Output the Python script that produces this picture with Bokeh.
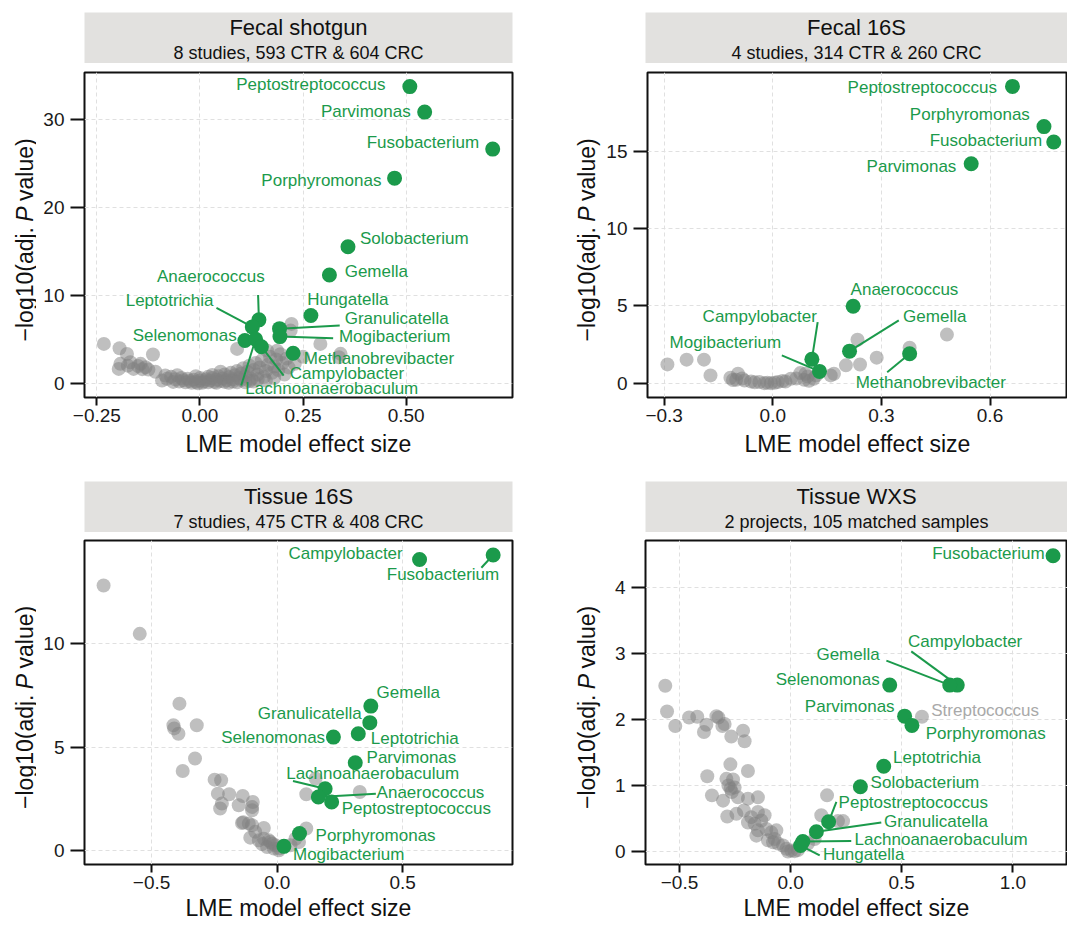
import math

from bokeh.core.properties import field, value
from bokeh.embed import file_html
from bokeh.layouts import column, row
from bokeh.models import ColumnDataSource, FixedTicker, Range1d
from bokeh.plotting import figure
from bokeh.resources import INLINE

FONT = "Liberation Sans"
GREEN = "#1b9a4b"
GRAY = "#808080"
STRIP = "#e2e1df"
INK = "#111111"

# ---------------------------------------------------------------- data
# Fecal shotgun
fs_title = "Fecal shotgun"
fs_subtitle = "8 studies, 593 CTR & 604 CRC"
fs_names = ["Peptostreptococcus", "Parvimonas", "Fusobacterium", "Porphyromonas",
            "Solobacterium", "Gemella", "Hungatella", "Granulicatella", "Mogibacterium",
            "Methanobrevibacter", "Anaerococcus", "Leptotrichia", "Selenomonas",
            "Lachnoanaerobaculum", "Campylobacter"]
fs_effect = [0.509, 0.545, 0.710, 0.472, 0.359, 0.314, 0.269, 0.193, 0.194,
             0.226, 0.143, 0.127, 0.109, 0.135, 0.149]
fs_logp = [33.7, 30.8, 26.6, 23.3, 15.5, 12.3, 7.7, 6.2, 5.3,
           3.4, 7.2, 6.4, 4.85, 5.0, 4.15]
fs_other_effect = [-0.233, -0.195, -0.177, -0.114, -0.193, -0.169, -0.144, -0.132, -0.197, -0.161,
                   -0.150, -0.125, -0.108, -0.084, -0.092, -0.070, -0.060, -0.050, -0.175, -0.140,
                   -0.045, -0.040, -0.035, -0.030, -0.025, -0.020, -0.015, -0.010, -0.005, 0.000,
                   0.005, 0.010, 0.015, 0.020, 0.025, 0.030, 0.035, 0.040, 0.045, 0.050,
                   0.055, 0.060, 0.065, 0.070, 0.075, 0.080, 0.085, 0.090, 0.095, 0.100,
                   0.105, 0.110, 0.115, 0.120, 0.125, 0.130, 0.135, 0.140, 0.145, 0.150,
                   0.155, 0.160, 0.165, 0.170, 0.175, 0.180, 0.185, 0.190, 0.195, 0.200,
                   0.205, 0.210, 0.215, -0.065, -0.055, -0.080, 0.000, 0.020, 0.040, 0.060,
                   0.080, 0.100, 0.120, 0.140, 0.160, 0.180, 0.050, 0.070, 0.090, 0.110,
                   0.130, 0.030, -0.010, 0.292, 0.337, 0.220, 0.222, 0.187, 0.090, 0.163,
                   0.341, 0.250, 0.230]
fs_other_logp = [4.47, 3.97, 3.33, 3.26, 2.20, 2.38, 2.20, 1.82, 1.63, 1.63,
                 1.95, 1.55, 1.30, 0.87, 0.30, 0.75, 0.45, 0.20, 2.00, 1.60,
                 0.60, 0.35, 0.10, 0.50, 0.25, 0.05, 0.40, 0.15, 0.00, 0.30,
                 0.05, 0.20, 0.45, 0.10, 0.30, 0.60, 0.15, 0.40, 0.80, 0.25,
                 0.55, 1.00, 0.35, 0.70, 1.20, 0.45, 0.90, 1.40, 0.60, 1.10,
                 1.70, 0.80, 1.30, 2.00, 0.50, 1.50, 2.30, 1.00, 1.80, 2.60,
                 0.70, 1.40, 2.10, 3.00, 1.20, 1.90, 2.70, 1.50, 3.30, 2.30,
                 1.00, 2.80, 1.80, 0.15, 0.90, 0.50, 0.60, 0.75, 0.05, 0.15,
                 0.20, 0.35, 0.25, 0.45, 0.30, 0.60, 1.30, 0.05, 0.10, 0.10,
                 0.20, 0.95, 0.80, 4.47, 2.95, 5.98, 6.74, 3.70, 3.90, 3.70,
                 3.34, 3.00, 2.20]
fs_xticks = [-0.25, 0.0, 0.25, 0.5]
fs_xlabels = ["\u22120.25", "0.00", "0.25", "0.50"]
fs_yticks = [0, 10, 20, 30]
fs_ylabels = ["0", "10", "20", "30"]

# Fecal 16S
f16_title = "Fecal 16S"
f16_subtitle = "4 studies, 314 CTR & 260 CRC"
f16_names = ["Peptostreptococcus", "Porphyromonas", "Fusobacterium", "Parvimonas",
             "Anaerococcus", "Gemella", "Methanobrevibacter", "Campylobacter", "Mogibacterium"]
f16_effect = [0.662, 0.749, 0.776, 0.548, 0.222, 0.212, 0.378, 0.108, 0.129]
f16_logp = [19.2, 16.6, 15.6, 14.2, 4.97, 2.07, 1.90, 1.54, 0.76]
f16_other_effect = [-0.291, -0.238, -0.190, -0.172, -0.117, -0.096, -0.101, -0.078, -0.060, -0.037,
                    -0.023, -0.005, 0.014, 0.027, 0.050, 0.076, 0.087, 0.096, 0.113, 0.169,
                    0.202, 0.234, 0.241, 0.287, 0.378, 0.481, -0.110, -0.085, -0.050, -0.015,
                    0.005, 0.035, 0.065, 0.100, 0.090, 0.120, 0.160]
f16_other_logp = [1.21, 1.52, 1.52, 0.50, 0.35, 0.61, 0.22, 0.17, 0.11, 0.07,
                  0.00, 0.00, 0.07, 0.13, 0.28, 0.65, 0.22, 0.43, 0.28, 0.61,
                  1.15, 2.81, 1.21, 1.65, 2.29, 3.14, 0.20, 0.30, 0.05, 0.03,
                  0.02, 0.10, 0.30, 0.15, 0.60, 0.50, 0.50]
f16_xticks = [-0.3, 0.0, 0.3, 0.6]
f16_xlabels = ["\u22120.3", "0.0", "0.3", "0.6"]
f16_yticks = [0, 5, 10, 15]
f16_ylabels = ["0", "5", "10", "15"]

# Tissue 16S
t16_title = "Tissue 16S"
t16_subtitle = "7 studies, 475 CTR & 408 CRC"
t16_names = ["Fusobacterium", "Campylobacter", "Gemella", "Granulicatella", "Leptotrichia",
             "Selenomonas", "Parvimonas", "Lachnoanaerobaculum", "Anaerococcus",
             "Peptostreptococcus", "Porphyromonas", "Mogibacterium"]
t16_effect = [0.860, 0.567, 0.373, 0.369, 0.323, 0.224, 0.311, 0.191, 0.164, 0.217, 0.089, 0.027]
t16_logp = [14.3, 14.08, 6.98, 6.18, 5.64, 5.48, 4.24, 2.98, 2.58, 2.34, 0.81, 0.19]
t16_other_effect = [-0.691, -0.547, -0.389, -0.413, -0.410, -0.393, -0.320, -0.327, -0.376, -0.249,
                    -0.223, -0.236, -0.191, -0.137, -0.220, -0.153, -0.097, -0.227, -0.100, -0.140,
                    -0.113, -0.100, -0.053, -0.087, -0.107, -0.073, -0.053, -0.033, -0.020, -0.040,
                    -0.013, 0.007, -0.007, -0.027, -0.100, -0.135, 0.153, 0.116, 0.329, 0.116,
                    0.087, 0.073, 0.053, 0.010, -0.060]
t16_other_logp = [12.82, 10.48, 7.10, 6.05, 5.90, 5.64, 6.05, 4.44, 3.84, 3.42,
                  3.39, 2.74, 2.71, 2.63, 2.26, 2.18, 2.34, 2.02, 1.94, 1.32,
                  1.29, 1.21, 1.08, 0.89, 0.61, 0.48, 0.56, 0.48, 0.32, 0.16,
                  0.08, 0.00, 0.24, 0.40, 2.10, 1.35, 3.47, 2.71, 2.82, 1.05,
                  0.40, 0.56, 0.24, 0.10, 0.30]
t16_xticks = [-0.5, 0.0, 0.5]
t16_xlabels = ["\u22120.5", "0.0", "0.5"]
t16_yticks = [0, 5, 10]
t16_ylabels = ["0", "5", "10"]

# Tissue WXS
wxs_title = "Tissue WXS"
wxs_subtitle = "2 projects, 105 matched samples"
wxs_names = ["Fusobacterium", "Campylobacter", "Gemella", "Selenomonas", "Parvimonas",
             "Porphyromonas", "Leptotrichia", "Solobacterium", "Peptostreptococcus",
             "Granulicatella", "Lachnoanaerobaculum", "Hungatella"]
wxs_effect = [1.181, 0.750, 0.716, 0.446, 0.513, 0.546, 0.419, 0.314, 0.171, 0.116, 0.055, 0.045]
wxs_logp = [4.48, 2.52, 2.52, 2.52, 2.05, 1.91, 1.29, 0.98, 0.45, 0.30, 0.15, 0.09]
wxs_grey_named = ["Streptococcus"]
wxs_grey_named_effect = [0.591]
wxs_grey_named_logp = [2.04]
wxs_other_effect = [-0.564, -0.556, -0.519, -0.457, -0.420, -0.379, -0.390, -0.334, -0.325, -0.297,
                    -0.307, -0.267, -0.214, -0.207, -0.271, -0.192, -0.375, -0.289, -0.259, -0.252,
                    -0.270, -0.354, -0.304, -0.237, -0.192, -0.147, -0.285, -0.244, -0.210, -0.177,
                    -0.147, -0.132, -0.117, -0.162, -0.192, -0.147, -0.109, -0.087, -0.064, -0.154,
                    -0.102, -0.072, -0.034, -0.019, 0.003, -0.012, 0.018, 0.033, -0.057, -0.079,
                    0.164, 0.138, 0.213, 0.236, 0.108, 0.078, -0.280, -0.265]
wxs_other_logp = [2.51, 2.12, 1.90, 2.03, 2.04, 1.92, 1.81, 2.05, 2.03, 1.93,
                  1.90, 1.74, 1.83, 1.67, 1.32, 1.22, 1.14, 1.10, 1.09, 0.97,
                  0.95, 0.85, 0.77, 0.82, 0.80, 0.82, 0.53, 0.57, 0.62, 0.52,
                  0.60, 0.47, 0.55, 0.42, 0.44, 0.32, 0.34, 0.29, 0.32, 0.24,
                  0.17, 0.19, 0.09, 0.04, 0.015, 0.00, 0.005, 0.02, 0.12, 0.14,
                  0.85, 0.55, 0.46, 0.46, 0.19, 0.12, 1.00, 0.90]
wxs_xticks = [-0.5, 0.0, 0.5, 1.0]
wxs_xlabels = ["\u22120.5", "0.0", "0.5", "1.0"]
wxs_yticks = [0, 1, 2, 3, 4]
wxs_ylabels = ["0", "1", "2", "3", "4"]

# ------------------------------------------------------- label placement
# name: (label x, label y, alignment, leader end or None)
fs_place = {
    "Peptostreptococcus": (0.450, 33.9, "right", None),
    "Parvimonas": (0.511, 30.9, "right", None),
    "Fusobacterium": (0.677, 27.4, "right", None),
    "Porphyromonas": (0.440, 23.0, "right", None),
    "Solobacterium": (0.388, 16.4, "left", None),
    "Gemella": (0.351, 12.7, "left", None),
    "Hungatella": (0.260, 9.5, "left", None),
    "Granulicatella": (0.351, 7.4, "left", (0.339, 6.55)),
    "Mogibacterium": (0.337, 5.3, "left", (0.323, 5.11)),
    "Methanobrevibacter": (0.252, 2.77, "left", None),
    "Campylobacter": (0.218, 1.07, "left", (0.203, 0.87)),
    "Lachnoanaerobaculum": (0.110, -0.64, "left", (0.100, -0.26)),
    "Anaerococcus": (0.157, 12.1, "right", (0.141, 10.03)),
    "Leptotrichia": (0.033, 9.4, "right", (0.040, 8.56)),
    "Selenomonas": (0.089, 5.4, "right", None),
}
f16_place = {
    "Peptostreptococcus": (0.619, 19.1, "right", None),
    "Porphyromonas": (0.710, 17.4, "right", None),
    "Fusobacterium": (0.744, 15.7, "right", None),
    "Parvimonas": (0.507, 14.0, "right", None),
    "Anaerococcus": (0.215, 6.05, "left", None),
    "Gemella": (0.360, 4.32, "left", (0.348, 4.06)),
    "Campylobacter": (0.122, 4.32, "right", (0.124, 3.95)),
    "Mogibacterium": (0.023, 2.66, "right", (0.025, 1.80)),
    "Methanobrevibacter": (0.229, 0.07, "left", (0.316, 0.71)),
}
t16_place = {
    "Campylobacter": (0.500, 14.35, "right", None),
    "Fusobacterium": (0.884, 13.35, "right", (0.813, 13.68)),
    "Gemella": (0.396, 7.63, "left", None),
    "Granulicatella": (0.337, 6.61, "right", None),
    "Selenomonas": (0.191, 5.48, "right", None),
    "Leptotrichia": (0.373, 5.40, "left", None),
    "Parvimonas": (0.356, 4.51, "left", None),
    "Lachnoanaerobaculum": (0.036, 3.71, "left", (0.063, 3.35)),
    "Anaerococcus": (0.396, 2.82, "left", (0.393, 2.74)),
    "Peptostreptococcus": (0.257, 2.02, "left", None),
    "Porphyromonas": (0.153, 0.73, "left", None),
    "Mogibacterium": (0.063, -0.19, "left", None),
}
wxs_place = {
    "Fusobacterium": (1.143, 4.51, "right", None),
    "Campylobacter": (0.528, 3.18, "left", (0.543, 3.03)),
    "Gemella": (0.401, 2.99, "right", (0.431, 2.89)),
    "Selenomonas": (0.401, 2.60, "right", None),
    "Parvimonas": (0.468, 2.20, "right", None),
    "Porphyromonas": (0.608, 1.79, "left", None),
    "Leptotrichia": (0.461, 1.43, "left", None),
    "Solobacterium": (0.360, 1.04, "left", None),
    "Peptostreptococcus": (0.216, 0.74, "left", (0.206, 0.75)),
    "Granulicatella": (0.420, 0.46, "left", (0.408, 0.44)),
    "Lachnoanaerobaculum": (0.288, 0.18, "left", (0.273, 0.16)),
    "Hungatella": (0.146, -0.045, "left", (0.131, -0.06)),
    "Streptococcus": (0.633, 2.13, "left", None),
}

Y_TITLE = ["\u2212log10(adj.", "P", "value)"]
X_TITLE = "LME model effect size"


# ------------------------------------------------------------- builders
def header(title, subtitle, width, left, right, top):
    h = figure(width=width, height=top + 51, x_range=Range1d(0, 1), y_range=Range1d(0, 1),
               x_axis_location=None, y_axis_location=None, output_backend="svg",
               toolbar_location=None, min_border_left=left, min_border_right=right,
               min_border_top=top, min_border_bottom=0)
    h.grid.visible = False
    h.background_fill_color = STRIP
    h.border_fill_color = "white"
    h.outline_line_color = None
    h.text(x=[0.5], y=[0.70], text=[title], text_align="center", text_baseline="middle",
           text_font=value(FONT), text_font_size=value("22px"), text_color=INK)
    h.text(x=[0.5], y=[0.20], text=[subtitle], text_align="center", text_baseline="middle",
           text_font=value(FONT), text_font_size=value("18px"), text_color=INK)
    return h


def y_title(width, height, top, bottom, cx):
    """Narrow strip holding the rotated y-axis title (with an italic P)."""
    fh = height - top - bottom
    f = figure(width=width, height=height, x_range=Range1d(0, width), y_range=Range1d(0, fh),
               x_axis_location=None, y_axis_location=None, output_backend="svg",
               toolbar_location=None, min_border_left=0, min_border_right=0,
               min_border_top=top, min_border_bottom=bottom)
    f.grid.visible = False
    f.outline_line_color = None
    f.background_fill_color = "white"
    yp = fh / 2 + 21
    common = dict(angle=math.pi / 2, text_baseline="middle", text_font=value(FONT),
                  text_font_size=value("23px"), text_color=INK)
    f.text(x=[cx], y=[yp - 13], text=[Y_TITLE[0]], text_align="right", **common)
    f.text(x=[cx], y=[yp], text=[Y_TITLE[1]], text_align="center", text_font_style="italic",
           **common)
    f.text(x=[cx], y=[yp + 13], text=[Y_TITLE[2]], text_align="left", **common)
    return f


def volcano(names, eff, logp, other_eff, other_logp, place, xticks, xlabels, yticks, ylabels,
            xr, yr, width, height, left, right, top, bottom, title_standoff=6,
            grey_names=(), grey_eff=(), grey_logp=()):
    p = figure(width=width, height=height, x_range=Range1d(*xr), y_range=Range1d(*yr),
               output_backend="svg", toolbar_location=None,
               min_border_left=left, min_border_right=right,
               min_border_top=top, min_border_bottom=bottom)

    p.xaxis.ticker = FixedTicker(ticks=xticks)
    p.yaxis.ticker = FixedTicker(ticks=yticks)
    p.xaxis.major_label_overrides = dict(zip(xticks, xlabels))
    p.yaxis.major_label_overrides = dict(zip(yticks, ylabels))
    p.axis.axis_line_color = None
    p.axis.minor_tick_line_color = None
    p.axis.major_tick_line_color = INK
    p.axis.major_tick_line_width = 2
    p.axis.major_tick_in = 0
    p.xaxis.major_tick_out = 8
    p.yaxis.major_tick_out = 14
    p.axis.major_label_text_font = FONT
    p.axis.major_label_text_font_size = "19px"
    p.axis.major_label_text_color = "#1a1a1a"
    p.xaxis.major_label_standoff = 3
    p.yaxis.major_label_standoff = 6
    p.xaxis.axis_label = X_TITLE
    p.xaxis.axis_label_text_font = FONT
    p.xaxis.axis_label_text_font_size = "23px"
    p.xaxis.axis_label_text_font_style = "normal"
    p.xaxis.axis_label_text_color = INK
    p.xaxis.axis_label_standoff = title_standoff

    p.grid.grid_line_color = "#e0e0e0"
    p.grid.grid_line_dash = "4 3"
    p.grid.grid_line_width = 1
    p.outline_line_color = INK
    p.outline_line_width = 2
    p.background_fill_color = "white"

    # background genera
    p.scatter(x=list(other_eff) + list(grey_eff), y=list(other_logp) + list(grey_logp),
              size=14, fill_color=GRAY, fill_alpha=0.5, line_color=None)

    # leader lines from each point to its label
    seg = dict(x0=[], y0=[], x1=[], y1=[])
    for n, px, py in zip(names, eff, logp):
        end = place[n][3]
        if end is not None:
            seg["x0"].append(px)
            seg["y0"].append(py)
            seg["x1"].append(end[0])
            seg["y1"].append(end[1])
    p.segment(x0="x0", y0="y0", x1="x1", y1="y1", source=ColumnDataSource(seg),
              line_color=GREEN, line_width=2)

    # highlighted genera
    p.scatter(x=eff, y=logp, size=15, fill_color=GREEN, line_color=None)

    lab = dict(x=[place[n][0] for n in names], y=[place[n][1] for n in names],
               align=[place[n][2] for n in names], text=list(names))
    p.text(x="x", y="y", text="text", text_align=field("align"), text_baseline="middle",
           source=ColumnDataSource(lab), text_font=value(FONT),
           text_font_size=value("17px"), text_color=GREEN)
    if grey_names:
        glab = dict(x=[place[n][0] for n in grey_names], y=[place[n][1] for n in grey_names],
                    align=[place[n][2] for n in grey_names], text=list(grey_names))
        p.text(x="x", y="y", text="text", text_align=field("align"), text_baseline="middle",
               source=ColumnDataSource(glab), text_font=value(FONT),
               text_font_size=value("17px"), text_color="#a9a9a9")
    return p


# column geometry (px)
LW, RW = 573, 494            # header widths of the two columns
LB, LR = 84, 61              # header borders, left column
RB, RR = 72, 0               # header borders, right column
YL_W, YL_CX = 36, 24         # y-title strip, left column
YR_W, YR_CX = 30, 13         # y-title strip, right column
TOP_H, BOT_H = 407, 393      # plot heights, top and bottom rows

h1 = header(fs_title, fs_subtitle, LW, LB, LR, 12)
h2 = header(f16_title, f16_subtitle, RW, RB, RR, 12)
h3 = header(t16_title, t16_subtitle, LW, LB, LR, 11)
h4 = header(wxs_title, wxs_subtitle, RW, RB, RR, 11)

p1 = volcano(fs_names, fs_effect, fs_logp, fs_other_effect, fs_other_logp, fs_place,
             fs_xticks, fs_xlabels, fs_yticks, fs_ylabels, (-0.280, 0.758), (-1.62, 35.3),
             LW - YL_W, TOP_H, LB - YL_W, LR, 9, 73)
p2 = volcano(f16_names, f16_effect, f16_logp, f16_other_effect, f16_other_logp, f16_place,
             f16_xticks, f16_xlabels, f16_yticks, f16_ylabels, (-0.346, 0.814), (-0.93, 20.1),
             RW - YR_W, TOP_H, RB - YR_W, RR, 9, 73)
p3 = volcano(t16_names, t16_effect, t16_logp, t16_other_effect, t16_other_logp, t16_place,
             t16_xticks, t16_xlabels, t16_yticks, t16_ylabels, (-0.767, 0.937), (-0.69, 15.0),
             LW - YL_W, BOT_H, LB - YL_W, LR, 8, 61, title_standoff=3)
p4 = volcano(wxs_names, wxs_effect, wxs_logp, wxs_other_effect, wxs_other_logp, wxs_place,
             wxs_xticks, wxs_xlabels, wxs_yticks, wxs_ylabels, (-0.653, 1.246), (-0.197, 4.71),
             RW - YR_W, BOT_H, RB - YR_W, RR, 8, 61, title_standoff=3,
             grey_names=wxs_grey_named, grey_eff=wxs_grey_named_effect,
             grey_logp=wxs_grey_named_logp)

y1 = y_title(YL_W, TOP_H, 9, 73, YL_CX)
y2 = y_title(YR_W, TOP_H, 9, 73, YR_CX)
y3 = y_title(YL_W, BOT_H, 8, 61, YL_CX)
y4 = y_title(YR_W, BOT_H, 8, 61, YR_CX)

layout = column(row(h1, h2), row(y1, p1, y2, p2), row(h3, h4), row(y3, p3, y4, p4))

with open("out.html", "w") as f:
    f.write(file_html(layout, INLINE, "Genus-level differential abundance"))
